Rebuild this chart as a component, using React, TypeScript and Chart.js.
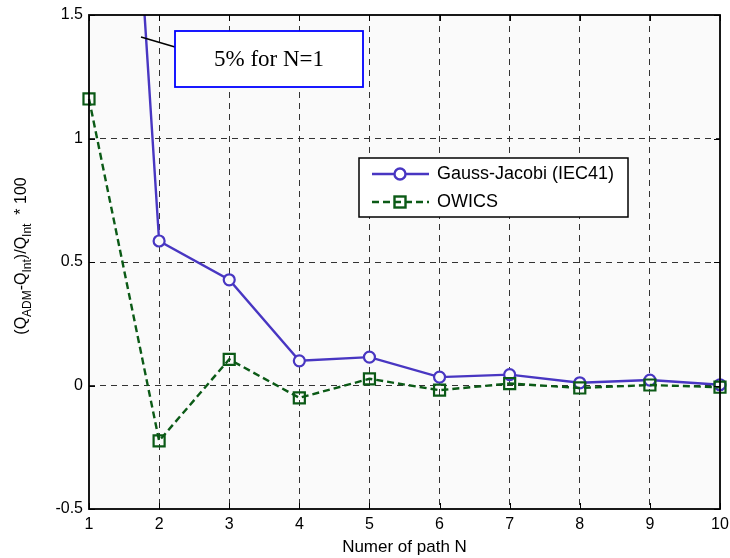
import React, { useEffect, useRef } from "react";
import { Chart, registerables } from "chart.js";

Chart.register(...registerables);

const nValues = [1, 2, 3, 4, 5, 6, 7, 8, 9, 10];
const gaussJacobi = [5, 0.585, 0.428, 0.1, 0.115, 0.034, 0.044, 0.011, 0.022, 0.003];
const owics = [1.16, -0.224, 0.106, -0.05, 0.027, -0.019, 0.008, -0.01, 0.002, -0.007];
const xTicks = [1, 2, 3, 4, 5, 6, 7, 8, 9, 10];
const yTicks = [-0.5, 0, 0.5, 1, 1.5];
const seriesNames = ["Gauss-Jacobi (IEC41)", "OWICS"];
const annotationText = "5% for N=1";
const xTitle = "Numer of path N";
const yTitleParts: [string, boolean][] = [
  ["(Q", false],
  ["ADM", true],
  ["-Q", false],
  ["Int", true],
  [")/Q", false],
  ["Int", true],
  ["  * 100", false],
];

const GJ_COLOR = "#4836c2";
const OW_COLOR = "#0b5a16";
const SANS = "'Liberation Sans', Arial, sans-serif";
const SERIF = "'Liberation Serif', 'Times New Roman', serif";

export default function App() {
  const ref = useRef<HTMLCanvasElement>(null);

  useEffect(() => {
    const canvas = ref.current!;
    const overlay = {
      id: "overlay",
      beforeDraw(chart: any) {
        const { ctx, chartArea: a } = chart;
        ctx.save();
        ctx.fillStyle = "#ffffff";
        ctx.fillRect(0, 0, chart.width, chart.height);
        ctx.fillStyle = "#fafafa";
        ctx.fillRect(a.left, a.top, a.right - a.left, a.bottom - a.top);
        ctx.restore();
      },
      afterDatasetsDraw(chart: any) {
        const { ctx, chartArea: a } = chart;
        const xs = chart.scales.x;
        const ys = chart.scales.y;
        ctx.save();
        // inward tick marks
        ctx.strokeStyle = "#000";
        ctx.lineWidth = 1;
        ctx.setLineDash([]);
        xTicks.forEach((v) => {
          const px = Math.round(xs.getPixelForValue(v)) + 0.5;
          ctx.beginPath();
          ctx.moveTo(px, a.bottom);
          ctx.lineTo(px, a.bottom - 6);
          ctx.moveTo(px, a.top);
          ctx.lineTo(px, a.top + 6);
          ctx.stroke();
        });
        yTicks.forEach((v) => {
          const py = Math.round(ys.getPixelForValue(v)) + 0.5;
          ctx.beginPath();
          ctx.moveTo(a.left, py);
          ctx.lineTo(a.left + 6, py);
          ctx.moveTo(a.right, py);
          ctx.lineTo(a.right - 6, py);
          ctx.stroke();
        });
        // frame
        ctx.lineWidth = 1.8;
        ctx.strokeRect(a.left, a.top, a.right - a.left, a.bottom - a.top);

        // annotation
        ctx.lineWidth = 1.5;
        ctx.beginPath();
        ctx.moveTo(141, 37);
        ctx.lineTo(175, 47);
        ctx.stroke();
        ctx.fillStyle = "#ffffff";
        ctx.fillRect(175, 31, 188, 56);
        ctx.strokeStyle = "#0000ff";
        ctx.lineWidth = 1.8;
        ctx.strokeRect(175, 31, 188, 56);
        ctx.fillStyle = "#000";
        ctx.font = `23px ${SERIF}`;
        ctx.textAlign = "center";
        ctx.textBaseline = "middle";
        ctx.fillText(annotationText, 269, 60);

        // legend
        ctx.fillStyle = "#ffffff";
        ctx.fillRect(359, 158, 269, 59);
        ctx.strokeStyle = "#000";
        ctx.lineWidth = 1.5;
        ctx.strokeRect(359, 158, 269, 59);
        const rows = [174, 202];
        // row 1
        ctx.strokeStyle = GJ_COLOR;
        ctx.lineWidth = 2.4;
        ctx.beginPath();
        ctx.moveTo(372, rows[0]);
        ctx.lineTo(429, rows[0]);
        ctx.stroke();
        ctx.fillStyle = "#ffffff";
        ctx.beginPath();
        ctx.arc(400, rows[0], 5.5, 0, Math.PI * 2);
        ctx.fill();
        ctx.stroke();
        // row 2
        ctx.strokeStyle = OW_COLOR;
        ctx.setLineDash([7, 4]);
        ctx.beginPath();
        ctx.moveTo(372, rows[1]);
        ctx.lineTo(429, rows[1]);
        ctx.stroke();
        ctx.setLineDash([]);
        ctx.strokeRect(394.5, rows[1] - 5.5, 11, 11);
        ctx.fillStyle = "#000";
        ctx.font = `18px ${SANS}`;
        ctx.textAlign = "left";
        ctx.textBaseline = "middle";
        ctx.fillText(seriesNames[0], 437, rows[0]);
        ctx.fillText(seriesNames[1], 437, rows[1]);

        // y title
        const mainFont = `16px ${SANS}`;
        const subFont = `12px ${SANS}`;
        let total = 0;
        const widths = yTitleParts.map(([t, sub]) => {
          ctx.font = sub ? subFont : mainFont;
          const w = ctx.measureText(t).width;
          total += w;
          return w;
        });
        const cy = (a.top + a.bottom) / 2 - 6;
        ctx.translate(22, cy);
        ctx.rotate(-Math.PI / 2);
        let x = -total / 2;
        ctx.textAlign = "left";
        ctx.textBaseline = "middle";
        yTitleParts.forEach(([t, sub], i) => {
          ctx.font = sub ? subFont : mainFont;
          ctx.fillText(t, x, sub ? 6 : 0);
          x += widths[i];
        });
        ctx.restore();
      },
    };

    const gridColor = (edgeA: number, edgeB: number) => (c: any) => {
      const v = c.tick ? c.tick.value : null;
      return v === edgeA || v === edgeB ? "rgba(0,0,0,0)" : "#333";
    };

    const chart = new Chart(canvas, {
      type: "line",
      data: {
        datasets: [
          {
            label: seriesNames[0],
            data: nValues.map((n, i) => ({ x: n, y: gaussJacobi[i] })),
            borderColor: GJ_COLOR,
            borderWidth: 2.4,
            pointStyle: "circle",
            pointRadius: 5.5,
            pointBorderWidth: 2.2,
            pointBorderColor: GJ_COLOR,
            pointBackgroundColor: "#fafafa",
            tension: 0,
            clip: { left: 10, top: 0, right: 10, bottom: 10 },
            order: 2,
          } as any,
          {
            label: seriesNames[1],
            data: nValues.map((n, i) => ({ x: n, y: owics[i] })),
            borderColor: OW_COLOR,
            borderWidth: 2.4,
            borderDash: [7, 4],
            pointStyle: "rect",
            pointRadius: 7.8,
            pointBorderWidth: 2.2,
            pointBorderColor: OW_COLOR,
            pointBackgroundColor: "rgba(0,0,0,0)",
            tension: 0,
            clip: false,
            order: 1,
          } as any,
        ],
      },
      plugins: [overlay],
      options: {
        animation: false,
        responsive: false,
        devicePixelRatio: 1,
        layout: { padding: { left: 0, right: 9, top: 15, bottom: 0 } },
        plugins: {
          legend: { display: false },
          tooltip: { enabled: false },
        },
        scales: {
          x: {
            type: "linear",
            min: 1,
            max: 10,
            afterBuildTicks: (s: any) => {
              s.ticks = xTicks.map((v) => ({ value: v }));
            },
            afterFit: (s: any) => {
              s.height = 49;
              s.paddingLeft = 0;
              s.paddingRight = 0;
            },
            ticks: {
              color: "#000",
              font: { family: SANS, size: 16 },
              padding: 6,
              maxRotation: 0,
              autoSkip: false,
              callback: (v: any) => String(v),
            },
            grid: { drawTicks: false, color: gridColor(1, 10), lineWidth: 1 },
            border: { display: false, dash: [6, 5] },
            title: {
              display: true,
              text: xTitle,
              color: "#000",
              font: { family: SANS, size: 17 },
              padding: { top: 0, bottom: 0 },
            },
          },
          y: {
            type: "linear",
            min: -0.5,
            max: 1.5,
            afterBuildTicks: (s: any) => {
              s.ticks = yTicks.map((v) => ({ value: v }));
            },
            afterFit: (s: any) => {
              s.width = 89;
              s.paddingTop = 0;
              s.paddingBottom = 0;
            },
            ticks: {
              color: "#000",
              font: { family: SANS, size: 16 },
              padding: 6,
              autoSkip: false,
              callback: (v: any) => String(v),
            },
            grid: { drawTicks: false, color: gridColor(-0.5, 1.5), lineWidth: 1 },
            border: { display: false, dash: [6, 5] },
          },
        },
      } as any,
    });
    return () => chart.destroy();
  }, []);

  return (
    <div style={{ position: "absolute", left: 0, top: 0, width: 730, height: 558, background: "#fff" }}>
      <canvas ref={ref} width={730} height={558} style={{ display: "block", width: 730, height: 558 }} />
    </div>
  );
}
